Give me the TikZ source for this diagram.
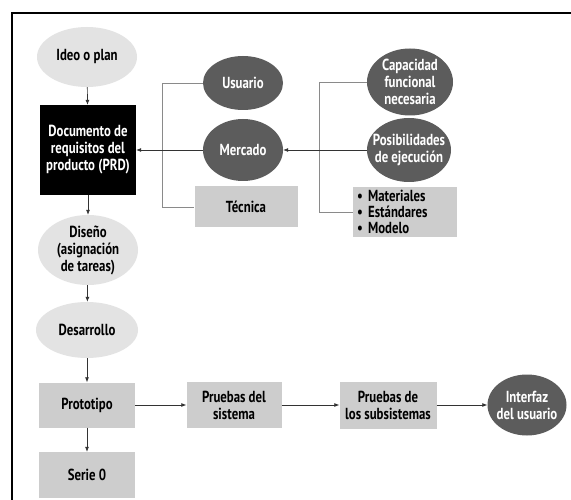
\documentclass[tikz,border=0pt]{standalone}
\usepackage{fontspec}
\setmainfont[FakeStretch=0.8]{PT Sans}
\usetikzlibrary{shapes.geometric,arrows.meta}
\definecolor{lightell}{HTML}{E3E3E3}
\definecolor{boxgray}{HTML}{CDCDCD}
\definecolor{darkell}{HTML}{5C5C5C}
\definecolor{linegray}{HTML}{8A8A8A}
\begin{document}
\begin{tikzpicture}[x=1pt,y=-1pt,
  font=\bfseries\fontsize{16}{17}\selectfont,
  lell/.style={ellipse,fill=lightell,inner sep=0pt},
  dell/.style={ellipse,fill=darkell,inner sep=0pt},
  ltxt/.style={label={[align=center,text=black,inner sep=0pt]center:#1}},
  dtxt/.style={label={[align=center,text=white,inner sep=0pt]center:#1}},
  gbox/.style={rectangle,fill=boxgray,inner sep=0pt,align=center,text=black},
  arr/.style={draw=black!80,line width=0.7pt,-{Latex[length=5pt,width=4pt]}},
  brk/.style={draw=linegray,line width=0.9pt}]
\useasboundingbox (0,0) rectangle (571,500);
\fill[white] (0,0) rectangle (571,500);
\draw[line width=1.2pt] (12,500) -- (12,13) -- (571,13);
% left column
\node[lell,minimum width=100pt,minimum height=60pt,ltxt={Ideo o plan}] (idea) at (87,57) {};
\node[rectangle,fill=black,text=white,inner sep=0pt,align=center,minimum width=96pt,minimum height=90pt] (prd) at (88,150) {Documento de\\requisitos del\\producto (PRD)};
\node[lell,minimum width=100pt,minimum height=70pt,ltxt={Diseño\\(asignación\\de tareas)}] (dis) at (88,250) {};
\node[lell,minimum width=102pt,minimum height=56pt,ltxt={Desarrollo}] (des) at (87,330) {};
\node[gbox,minimum width=96pt,minimum height=45pt] (proto) at (87,405) {Prototipo};
\node[gbox,minimum width=96pt,minimum height=46pt] (serie) at (87,475) {Serie 0};
% bottom row
\node[gbox,minimum width=95pt,minimum height=46pt] (psis) at (234,405) {Pruebas del\\sistema};
\node[gbox,minimum width=97pt,minimum height=47pt] (psub) at (388,405) {Pruebas de\\los subsistemas};
\node[dell,minimum width=79pt,minimum height=61pt,dtxt={Interfaz\\del usuario}] (inter) at (527,405) {};
% top middle
\node[dell,minimum width=80pt,minimum height=54pt,dtxt={Usuario}] (usu) at (243,83) {};
\node[dell,minimum width=80pt,minimum height=62pt,dtxt={Mercado}] (merc) at (243,150) {};
\node[gbox,minimum width=103pt,minimum height=41pt] (tec) at (246,207) {Técnica};
% top right
\node[dell,minimum width=86pt,minimum height=67pt,dtxt={Capacidad\\funcional\\necesaria}] (cap) at (410,82) {};
\node[dell,minimum width=84pt,minimum height=64pt,dtxt={Posibilidades\\de ejecución}] (posib) at (409,150) {};
\node[gbox,minimum width=104pt,minimum height=50pt,align=left,text width=96pt,font=\bfseries\fontsize{16}{16}\selectfont] (mat) at (405,212) {\textbullet\ Materiales\\\textbullet\ Estándares\\\textbullet\ Modelo};
% brackets
\draw[brk] (usu.west) -- ++(-40,0) |- (tec.west);
\draw[brk] (cap.west) -- ++(-47,0) |- (mat.west);
% arrows
\draw[arr] (idea) -- (prd);
\draw[arr] (prd) -- (dis);
\draw[arr] (dis) -- (des);
\draw[arr] (des) -- (proto);
\draw[arr] (proto) -- (serie);
\draw[arr] (proto) -- (psis);
\draw[arr] (psis) -- (psub);
\draw[arr] (psub) -- (inter);
\draw[arr] (merc) -- (prd);
\draw[arr] (posib) -- (merc);
\end{tikzpicture}
\end{document}
